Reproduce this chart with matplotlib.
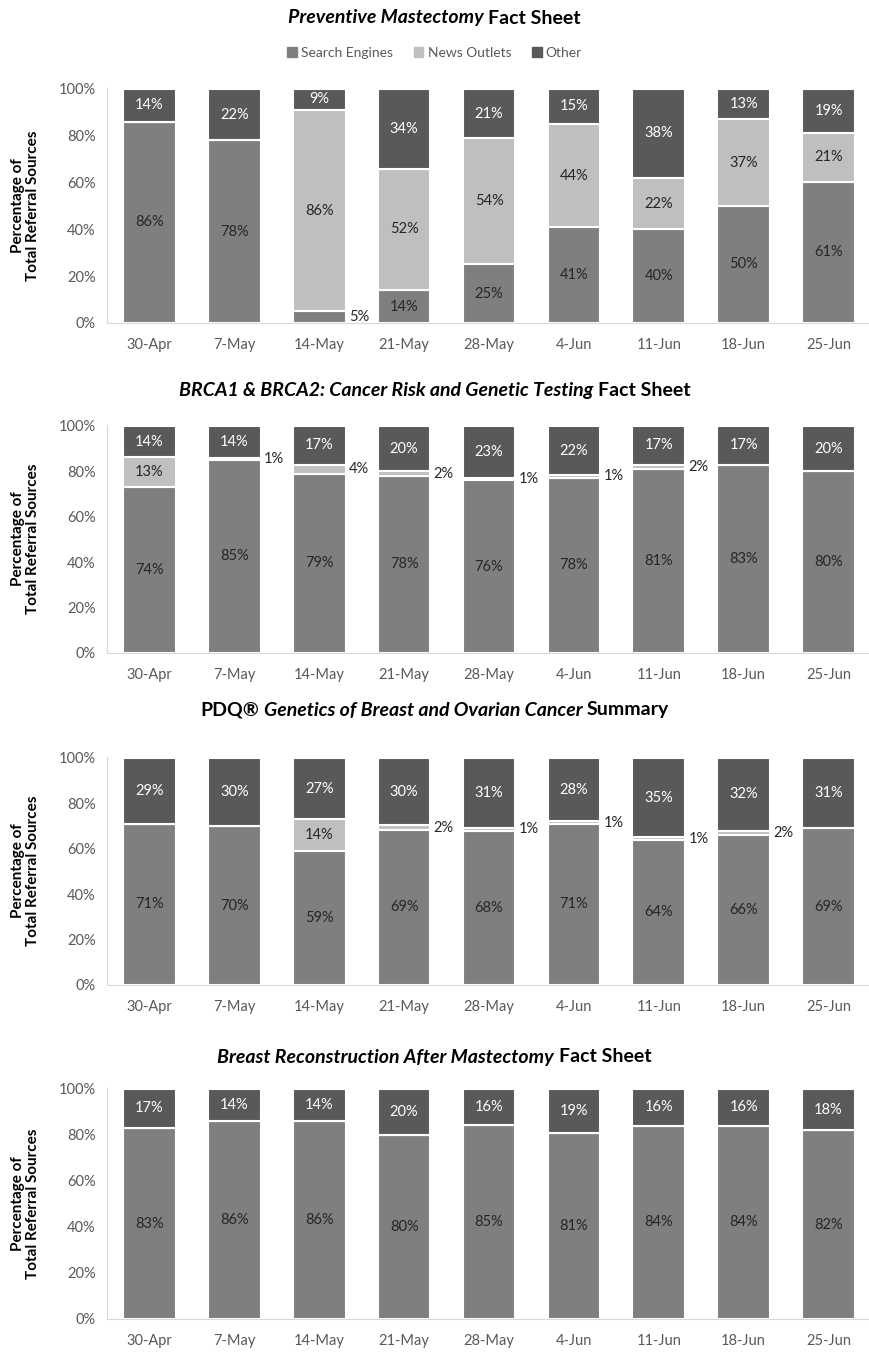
import numpy as np
import matplotlib
matplotlib.use('agg')
import matplotlib.pyplot as plt
from matplotlib.patches import Patch

plt.rcParams['font.family'] = ['Lato', 'DejaVu Sans']

weeks = ['30-Apr', '7-May', '14-May', '21-May', '28-May', '4-Jun', '11-Jun', '18-Jun', '25-Jun']
series_names = ['Search Engines', 'News Outlets', 'Other']

# preventive mastectomy
pm_search = [86, 78, 5, 14, 25, 41, 40, 50, 61]
pm_news = [0, 0, 86, 52, 54, 44, 22, 37, 21]
pm_other = [14, 22, 9, 34, 21, 15, 38, 13, 19]
# brca1 & brca2
br_search = [74, 85, 79, 78, 76, 78, 81, 83, 80]
br_news = [13, 1, 4, 2, 1, 1, 2, 0, 0]
br_other = [14, 14, 17, 20, 23, 22, 17, 17, 20]
# pdq genetics
pdq_search = [71, 70, 59, 69, 68, 71, 64, 66, 69]
pdq_news = [0, 0, 14, 2, 1, 1, 1, 2, 0]
pdq_other = [29, 30, 27, 30, 31, 28, 35, 32, 31]
# breast reconstruction
rc_search = [83, 86, 86, 80, 85, 81, 84, 84, 82]
rc_news = [0, 0, 0, 0, 0, 0, 0, 0, 0]
rc_other = [17, 14, 14, 20, 16, 19, 16, 16, 18]

titles = [
    [("Preventive Mastectomy", 'italic'), ("Fact Sheet", 'normal')],
    [("BRCA1 & BRCA2: Cancer Risk and Genetic Testing", 'italic'), ("Fact Sheet", 'normal')],
    [("PDQ®", 'normal'), ("Genetics of Breast and Ovarian Cancer", 'italic'), ("Summary", 'normal')],
    [("Breast Reconstruction After Mastectomy", 'italic'), ("Fact Sheet", 'normal')],
]
panels = [
    (pm_search, pm_news, pm_other),
    (br_search, br_news, br_other),
    (pdq_search, pdq_news, pdq_other),
    (rc_search, rc_news, rc_other),
]

colors = ['#7f7f7f', '#bfbfbf', '#595959']
txt_colors = ['#262626', '#262626', 'white']
tick_col = '#595959'

W, H = 869, 1353
fig = plt.figure(figsize=(W / 100, H / 100), dpi=100)

# (top px, bottom px, title y px)
layout = [(88, 323, 18), (425, 653, 390), (757, 985, 710), (1088, 1319, 1057)]
left_px, right_px = 107, 871
bw = 0.62


def rich_title(y, parts, size=14):
    r = fig.canvas.get_renderer()
    probe = fig.text(0, 0, "a a", fontsize=size, fontweight='bold')
    w1 = probe.get_window_extent(r).width
    probe.set_text("aa")
    gap = w1 - probe.get_window_extent(r).width
    probe.remove()
    texts = []
    widths = []
    for s, st in parts:
        t = fig.text(0, y, s, fontsize=size, fontweight='bold', fontstyle=st,
                     va='center', ha='left', color='black')
        texts.append(t)
        widths.append(t.get_window_extent(r).width)
    total = sum(widths) + gap * (len(parts) - 1)
    x = (W / 2 - total / 2)
    for t, w in zip(texts, widths):
        t.set_x(x / W)
        x += w + gap


x = np.arange(len(weeks))
for k, (top, bot, ty) in enumerate(layout):
    ax = fig.add_axes([left_px / W, 1 - bot / H, (right_px - left_px) / W, (bot - top) / H])
    vals = [np.array(v, dtype=float) for v in panels[k]]
    totals = sum(vals)
    bottom = np.zeros(len(weeks))
    for j, v in enumerate(vals):
        h = v / totals * 100  # 100% stacked
        ax.bar(x, h, bw, bottom=bottom, color=colors[j], edgecolor='white', linewidth=1.5, zorder=2)
        for i in range(len(weeks)):
            if v[i] <= 0:
                continue
            yc = bottom[i] + h[i] / 2
            if v[i] <= 5:
                ax.text(x[i] + bw / 2 + 0.04, yc, f"{int(v[i])}%", ha='left', va='center',
                        fontsize=10.5, color='#262626')
            else:
                ax.text(x[i], yc, f"{int(v[i])}%", ha='center', va='center',
                        fontsize=10.5, color=txt_colors[j])
        bottom = bottom + h
    ax.set_xlim(-0.5, len(weeks) - 0.5)
    ax.set_ylim(0, 100.4)
    ax.set_yticks(np.arange(0, 101, 20))
    ax.set_yticklabels([f"{t}%" for t in range(0, 101, 20)])
    ax.set_xticks(x)
    ax.set_xticklabels(weeks)
    ax.tick_params(axis='both', length=0, labelsize=10.5, colors=tick_col)
    ax.tick_params(axis='x', pad=11)
    ax.tick_params(axis='y', pad=8)
    for s in ['top', 'right']:
        ax.spines[s].set_visible(False)
    for s in ['left', 'bottom']:
        ax.spines[s].set_color('#d9d9d9')
    ax.set_ylabel("Percentage of\nTotal Referral Sources", fontsize=11, fontweight='bold',
                  color='black', linespacing=1.1)
    ax.yaxis.set_label_coords(-0.088, 0.5)
    rich_title(1 - ty / H, titles[k])

handles = [Patch(color=c) for c in colors]
fig.legend(handles, series_names, loc='center', bbox_to_anchor=(0.5, 1 - 53 / H), ncol=3,
           frameon=False, fontsize=10, handlelength=0.7, handleheight=0.7, handletextpad=0.3,
           columnspacing=1.5, labelcolor=tick_col)

fig.savefig('out.png', dpi=100)
